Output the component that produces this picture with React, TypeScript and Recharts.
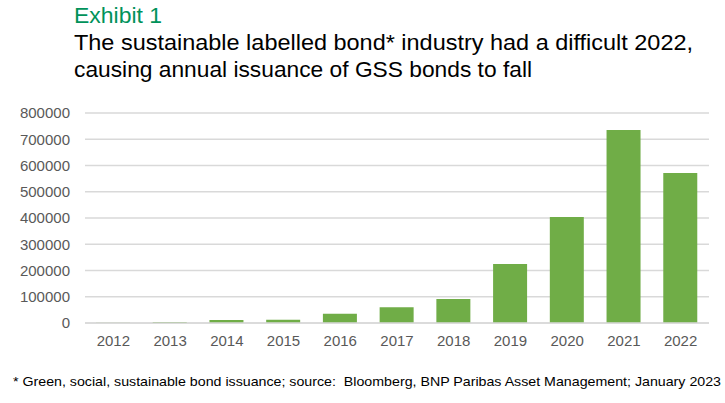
import React from "react";
import { BarChart, Bar, XAxis, YAxis, CartesianGrid } from "recharts";

const years = ["2012", "2013", "2014", "2015", "2016", "2017", "2018", "2019", "2020", "2021", "2022"];
const issuance = [1000, 4000, 11000, 12500, 35000, 60000, 91000, 225000, 404000, 735000, 571000];
const yTicks = [0, 100000, 200000, 300000, 400000, 500000, 600000, 700000, 800000];

const data = years.map((y, i) => ({ year: y, value: issuance[i] }));

const textFont = "'Liberation Sans', Arial, sans-serif";
const axisFont = "'Liberation Sans', Arial, sans-serif";

export default function App() {
  return (
    <div style={{ position: "absolute", left: 0, top: 0, width: 725, height: 403, background: "#fff", overflow: "hidden" }}>
      <BarChart
        width={725}
        height={403}
        data={data}
        margin={{ top: 113, right: 16, bottom: 50, left: 0 }}
      >
        <CartesianGrid vertical={false} stroke="#D9D9D9" strokeWidth={1.3} />
        <XAxis
          dataKey="year"
          axisLine={{ stroke: "#D9D9D9", strokeWidth: 1.3 }}
          tickLine={false}
          tick={{ fill: "#595959", fontSize: 15, fontFamily: axisFont }}
          tickMargin={6}
          interval={0}
        />
        <YAxis
          width={85}
          domain={[0, 800000]}
          ticks={yTicks}
          axisLine={false}
          tickLine={false}
          tickMargin={9}
          tick={{ fill: "#595959", fontSize: 15, fontFamily: axisFont }}
          interval={0}
        />
        <Bar dataKey="value" fill="#70AD47" barSize={34} isAnimationActive={false} />
      </BarChart>
      <svg width={725} height={403} style={{ position: "absolute", left: 0, top: 0, pointerEvents: "none" }}>
        <text x={74} y={23} fontFamily={textFont} fontSize={22} fill="#00925A" textLength={88} lengthAdjust="spacingAndGlyphs">
          Exhibit 1
        </text>
        <text x={74} y={49.5} fontFamily={textFont} fontSize={22} fill="#000" textLength={619} lengthAdjust="spacingAndGlyphs">
          The sustainable labelled bond* industry had a difficult 2022,
        </text>
        <text x={74} y={77} fontFamily={textFont} fontSize={22} fill="#000" textLength={458} lengthAdjust="spacingAndGlyphs">
          causing annual issuance of GSS bonds to fall
        </text>
        <text x={13} y={386} fontFamily={textFont} fontSize={13} fill="#000" textLength={708} lengthAdjust="spacingAndGlyphs" xmlSpace="preserve">
          * Green, social, sustainable bond issuance; source:  Bloomberg, BNP Paribas Asset Management; January 2023
        </text>
      </svg>
    </div>
  );
}
